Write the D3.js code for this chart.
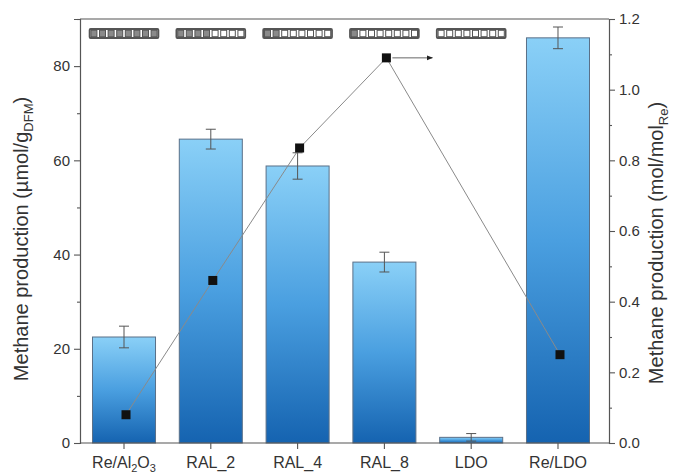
<!DOCTYPE html>
<html>
<head>
<meta charset="utf-8">
<script src="https://cdn.jsdelivr.net/npm/d3@7"></script>
<style>
  body { margin: 0; background: #fff; }
  svg { display: block; font-family: "Liberation Sans", Arial, sans-serif; }
</style>
</head>
<body>
<svg id="chart" width="678" height="475"></svg>
<script>
// Methane production per catalyst: bars on the left axis, Re-normalised yield on the right
const categories = ["Re/Al2O3", "RAL_2", "RAL_4", "RAL_8", "LDO", "Re/LDO"];
const productionDFM = [22.5, 64.5, 58.8, 38.4, 1.2, 86.0];      // µmol/g_DFM
const productionErr = [2.3, 2.1, 2.8, 2.1, 0.8, 2.3];
const productionRe  = [0.08, 0.46, 0.835, 1.09, null, 0.25];     // mol/mol_Re
const filledCells   = [8, 4, 2, 1, 0, null];                      // composition strip (of 8)
const leftTicks  = [0, 20, 40, 60, 80];
const rightTicks = [0.0, 0.2, 0.4, 0.6, 0.8, 1.0, 1.2];

const svg = d3.select("#chart");
const L = 80, R = 609, T = 19, B = 443;
const axisColor = "#555";
const textColor = "#333";

const x = d3.scaleBand().domain(categories).range([L, 602]).paddingInner(0.274).paddingOuter(0.144);
const yL = d3.scaleLinear().domain([0, 90]).range([B, T]);
const yR = d3.scaleLinear().domain([0, 1.2]).range([B, T]);

const defs = svg.append("defs");
const grad = defs.append("linearGradient").attr("id", "barGrad")
  .attr("x1", 0).attr("y1", 0).attr("x2", 0).attr("y2", 1);
grad.append("stop").attr("offset", "0%").attr("stop-color", "#8ad0f7");
grad.append("stop").attr("offset", "50%").attr("stop-color", "#4a9fe0");
grad.append("stop").attr("offset", "100%").attr("stop-color", "#1563b0");

defs.append("marker").attr("id", "arrowHead")
  .attr("viewBox", "0 0 10 10").attr("refX", 9).attr("refY", 5)
  .attr("markerWidth", 8).attr("markerHeight", 6).attr("orient", "auto")
  .attr("markerUnits", "userSpaceOnUse")
  .append("path").attr("d", "M0,1 L10,5 L0,9 Z").attr("fill", "#222");

// Bars
svg.append("g").selectAll("rect").data(categories).join("rect")
  .attr("x", d => x(d))
  .attr("y", (d, i) => yL(productionDFM[i]))
  .attr("width", x.bandwidth())
  .attr("height", (d, i) => yL(0) - yL(productionDFM[i]))
  .attr("fill", "url(#barGrad)")
  .attr("stroke", "#5a7088").attr("stroke-width", 1);

// Error bars
const eb = svg.append("g").attr("stroke", "#555").attr("stroke-width", 1);
categories.forEach((c, i) => {
  const cx = x(c) + x.bandwidth() / 2;
  const lo = yL(productionDFM[i] - productionErr[i]);
  const hi = yL(productionDFM[i] + productionErr[i]);
  eb.append("line").attr("x1", cx).attr("x2", cx).attr("y1", lo).attr("y2", hi);
  eb.append("line").attr("x1", cx - 5).attr("x2", cx + 5).attr("y1", hi).attr("y2", hi);
  eb.append("line").attr("x1", cx - 5).attr("x2", cx + 5).attr("y1", lo).attr("y2", lo);
});

// Right-axis series (line + square markers)
const pts = categories.map((c, i) => ({ c, v: productionRe[i] })).filter(d => d.v !== null);
const lineGen = d3.line().x(d => x(d.c) + x.bandwidth() / 2 + 2).y(d => yR(d.v));
svg.append("path").datum(pts).attr("d", lineGen)
  .attr("fill", "none").attr("stroke", "#8a8a8a").attr("stroke-width", 1);
svg.append("g").selectAll("rect").data(pts).join("rect")
  .attr("x", d => x(d.c) + x.bandwidth() / 2 + 2 - 4.5)
  .attr("y", d => yR(d.v) - 4.5)
  .attr("width", 9).attr("height", 9).attr("fill", "#111");

// Arrow pointing to the right axis
const arrowFrom = pts.find(d => d.c === "RAL_8");
svg.append("line")
  .attr("x1", x("RAL_8") + x.bandwidth() / 2 + 8).attr("x2", x("RAL_8") + x.bandwidth() / 2 + 48)
  .attr("y1", yR(arrowFrom.v)).attr("y2", yR(arrowFrom.v))
  .attr("stroke", "#666").attr("stroke-width", 1).attr("marker-end", "url(#arrowHead)");

// Composition strips above the bars
const cellW = 8.6, cellH = 9, stripY = 29;
categories.forEach((c, i) => {
  if (filledCells[i] === null) return;
  const cx = x(c) + x.bandwidth() / 2;
  const x0 = cx - cellW * 4;
  const g = svg.append("g");
  g.append("rect").attr("x", x0).attr("y", stripY).attr("width", cellW * 8).attr("height", cellH)
    .attr("fill", "none").attr("stroke", "#555").attr("stroke-width", 1.8).attr("rx", 1);
  d3.range(8).forEach(k => {
    g.append("rect").attr("x", x0 + k * cellW + 1.3).attr("y", stripY + 1.3)
      .attr("width", cellW - 2.6).attr("height", cellH - 2.6)
      .attr("fill", k < filledCells[i] ? "#8a8a8a" : "#fff")
      .attr("stroke", "#555").attr("stroke-width", 1);
  });
});

// Frame
svg.append("line").attr("x1", L).attr("x2", R).attr("y1", T).attr("y2", T)
  .attr("stroke", axisColor).attr("stroke-width", 1.2);

// Left axis
svg.append("g").attr("transform", `translate(${L},0)`)
  .call(d3.axisLeft(yL).tickValues(leftTicks).tickSize(6).tickPadding(4).tickFormat(d3.format("d")));
svg.append("g").attr("transform", `translate(${L},0)`)
  .call(d3.axisLeft(yL).tickValues([10, 30, 50, 70, 90]).tickSize(3).tickFormat(""))
  .call(g => g.select(".domain").remove());

// Right axis
svg.append("g").attr("transform", `translate(${R},0)`)
  .call(d3.axisRight(yR).tickValues(rightTicks).tickSize(6).tickPadding(4).tickFormat(d3.format(".1f")));
svg.append("g").attr("transform", `translate(${R},0)`)
  .call(d3.axisRight(yR).tickValues([0.1, 0.3, 0.5, 0.7, 0.9, 1.1]).tickSize(3).tickFormat(""))
  .call(g => g.select(".domain").remove());

// Bottom axis
svg.append("line").attr("x1", L).attr("x2", R).attr("y1", B).attr("y2", B)
  .attr("stroke", axisColor).attr("stroke-width", 1.2);
const gB = svg.append("g").attr("transform", `translate(0,${B})`)
  .call(d3.axisBottom(x).tickSize(6).tickPadding(4).tickFormat(""));
gB.select(".domain").remove();

svg.selectAll(".domain").attr("stroke", axisColor).attr("stroke-width", 1.2);
svg.selectAll(".tick line").attr("stroke", axisColor).attr("stroke-width", 1.1);
svg.selectAll(".tick text").attr("fill", textColor).style("font-size", "15px")
  .style("font-family", "'Liberation Sans', Arial, sans-serif");

// Category labels with chemical subscripts
const labelParts = {
  "Re/Al2O3": [["Re/Al", false], ["2", true], ["O", false], ["3", true]]
};
categories.forEach(c => {
  const t = svg.append("text")
    .attr("x", x(c) + x.bandwidth() / 2).attr("y", 468)
    .attr("text-anchor", "middle").attr("fill", textColor).style("font-size", "16px");
  const parts = labelParts[c] || [[c, false]];
  parts.forEach(([s, sub]) => {
    const ts = t.append("tspan").text(s);
    if (sub) ts.style("font-size", "11px").attr("dy", 4);
    else if (t.selectAll("tspan").size() > 1) ts.attr("dy", -4);
  });
});

// Axis titles
const tl = svg.append("text")
  .attr("transform", `translate(28,${(T + B) / 2 + 8}) rotate(-90)`)
  .attr("text-anchor", "middle").attr("fill", textColor).style("font-size", "20px");
tl.append("tspan").text("Methane production (µmol/g");
tl.append("tspan").text("DFM").style("font-size", "13px").attr("dy", 5);
tl.append("tspan").text(")").attr("dy", -5);

const tr = svg.append("text")
  .attr("transform", `translate(663,${(T + B) / 2 + 12}) rotate(-90)`)
  .attr("text-anchor", "middle").attr("fill", textColor).style("font-size", "20px");
tr.append("tspan").text("Methane production (mol/mol");
tr.append("tspan").text("Re").style("font-size", "13px").attr("dy", 5);
tr.append("tspan").text(")").attr("dy", -5);
</script>
</body>
</html>
